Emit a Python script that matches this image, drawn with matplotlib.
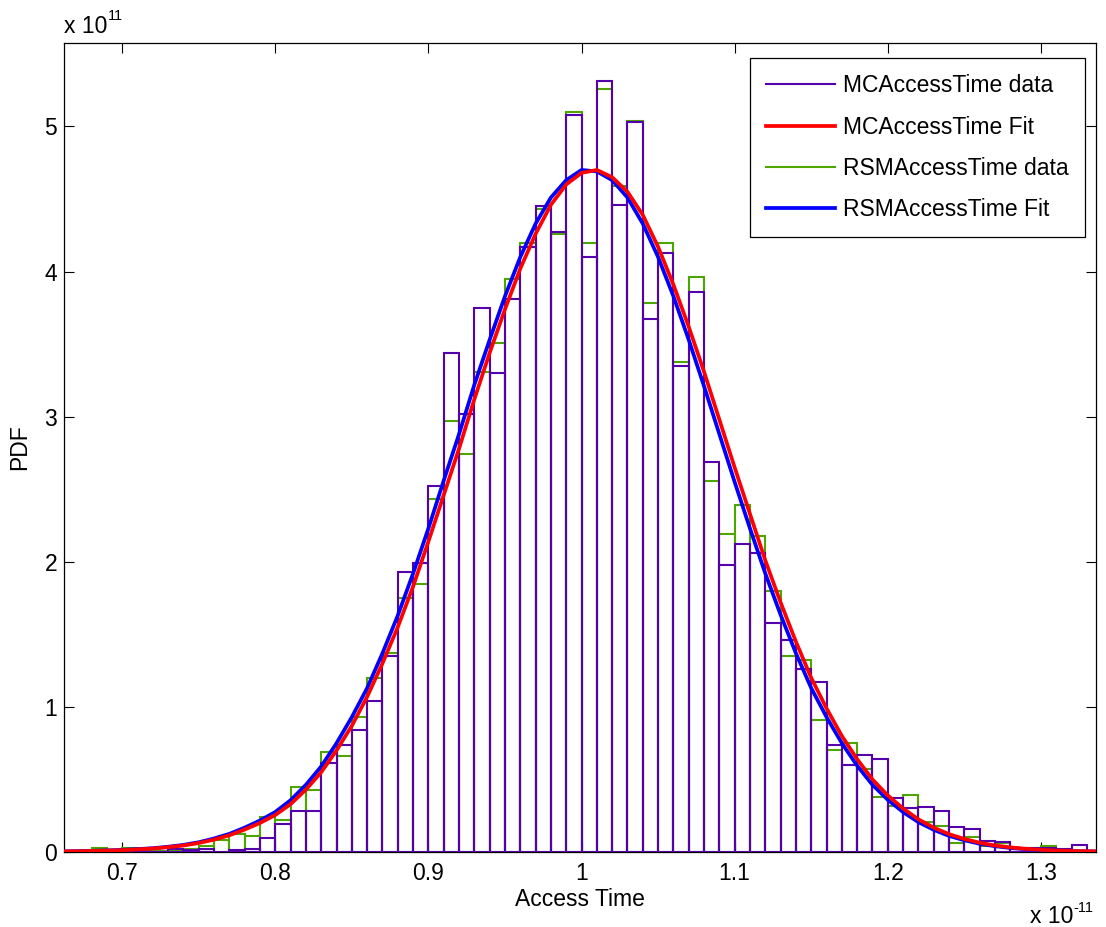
import matplotlib
matplotlib.use('Agg')
import matplotlib.pyplot as plt
from matplotlib.lines import Line2D
import numpy as np

plt.rcParams['font.family'] = ['Liberation Sans', 'DejaVu Sans']

# ---------------- data (x in units of 1e-11 s, pdf in units of 1e11) ----------------
bin_width = 0.01
bin_left = np.round(np.arange(0.66, 1.335, bin_width), 2)

mc_data = [0.0, 0.0, 0.0, 0.0, 0.0, 0.0, 0.0,
           0.023, 0.011, 0.023, 0.003, 0.016, 0.023, 0.096,
           0.193, 0.28, 0.28, 0.61, 0.74, 0.84, 1.04, 1.35,
           1.93, 1.99, 2.52, 3.44, 3.02, 3.75, 3.30, 3.81,
           4.17, 4.45, 4.27, 5.08, 4.10, 5.31, 4.46, 5.03,
           3.67, 4.13, 3.35, 3.86, 2.69, 1.98, 2.12, 2.06,
           1.58, 1.46, 1.26, 1.17, 0.74, 0.60, 0.67, 0.64,
           0.37, 0.30, 0.31, 0.28, 0.17, 0.16, 0.075, 0.07,
           0.03, 0.03, 0.03, 0.02, 0.045, 0.0]

rsm_data = [0.0, 0.0, 0.025, 0.0, 0.025, 0.01, 0.01,
            0.01, 0.02, 0.044, 0.085, 0.124, 0.108, 0.241,
            0.223, 0.45, 0.425, 0.69, 0.66, 0.93, 1.20, 1.37,
            1.75, 1.85, 2.43, 2.97, 2.74, 3.31, 3.51, 3.95,
            4.20, 4.43, 4.26, 5.10, 4.20, 5.26, 4.59, 5.04,
            3.78, 4.20, 3.38, 3.96, 2.56, 2.19, 2.39, 2.18,
            1.80, 1.35, 1.32, 0.91, 0.70, 0.75, 0.57, 0.38,
            0.32, 0.39, 0.21, 0.18, 0.06, 0.10, 0.04, 0.06,
            0.02, 0.03, 0.04, 0.015, 0.01, 0.0]

fit_x = [0.662, 0.67, 0.68, 0.69, 0.70, 0.71, 0.72, 0.73, 0.74, 0.75,
         0.76, 0.77, 0.78, 0.79, 0.80, 0.81, 0.82, 0.83, 0.84, 0.85,
         0.86, 0.87, 0.88, 0.89, 0.90, 0.91, 0.92, 0.93, 0.94, 0.95,
         0.96, 0.97, 0.98, 0.99, 1.00, 1.01, 1.02, 1.03, 1.04, 1.05,
         1.06, 1.07, 1.08, 1.09, 1.10, 1.11, 1.12, 1.13, 1.14, 1.15,
         1.16, 1.17, 1.18, 1.19, 1.20, 1.21, 1.22, 1.23, 1.24, 1.25,
         1.26, 1.27, 1.28, 1.29, 1.30, 1.31, 1.32, 1.33, 1.336]

mc_fit = [0.004, 0.005, 0.007, 0.010, 0.013, 0.018, 0.024, 0.033, 0.045, 0.062,
          0.085, 0.115, 0.155, 0.200, 0.255, 0.33, 0.43, 0.55, 0.70, 0.87,
          1.07, 1.30, 1.55, 1.83, 2.14, 2.46, 2.78, 3.12, 3.44, 3.74,
          4.02, 4.26, 4.46, 4.60, 4.68, 4.70, 4.65, 4.55, 4.39, 4.17,
          3.91, 3.62, 3.31, 2.98, 2.65, 2.33, 2.01, 1.72, 1.45, 1.20,
          0.99, 0.80, 0.64, 0.50, 0.39, 0.30, 0.225, 0.168, 0.123, 0.090,
          0.064, 0.045, 0.032, 0.022, 0.015, 0.010, 0.007, 0.005, 0.004]

rsm_fit = [0.004, 0.0055, 0.0078, 0.011, 0.0145, 0.020, 0.026, 0.036, 0.049, 0.067,
           0.093, 0.125, 0.168, 0.217, 0.276, 0.357, 0.463, 0.59, 0.75, 0.93,
           1.13, 1.37, 1.63, 1.92, 2.23, 2.56, 2.88, 3.22, 3.53, 3.83,
           4.10, 4.33, 4.51, 4.63, 4.70, 4.69, 4.63, 4.51, 4.33, 4.10,
           3.83, 3.53, 3.21, 2.88, 2.55, 2.23, 1.92, 1.635, 1.37, 1.13,
           0.93, 0.75, 0.595, 0.463, 0.36, 0.275, 0.206, 0.153, 0.111, 0.081,
           0.057, 0.040, 0.028, 0.0195, 0.013, 0.009, 0.006, 0.0045, 0.0035]

labels = ['MCAccessTime data', 'MCAccessTime Fit',
          'RSMAccessTime data', 'RSMAccessTime Fit']
x_ticks = [0.7, 0.8, 0.9, 1.0, 1.1, 1.2, 1.3]
x_tick_labels = ['0.7', '0.8', '0.9', '1', '1.1', '1.2', '1.3']
y_ticks = [0, 1, 2, 3, 4, 5]
y_tick_labels = ['0', '1', '2', '3', '4', '5']

# ---------------- styling ----------------
purple = '#5500aa'
green = '#4da600'
fs = 16.5
sup_fs = 10.5

W, H = 1106, 927
fig = plt.figure(figsize=(W / 100, H / 100), dpi=100)
ax = fig.add_axes([64 / W, 1 - 852 / H, (1096 - 64) / W, (852 - 43) / H])

ax.bar(bin_left, rsm_data, width=bin_width, align='edge', fill=False,
       edgecolor=green, linewidth=1.5, zorder=2)
ax.bar(bin_left, mc_data, width=bin_width, align='edge', fill=False,
       edgecolor=purple, linewidth=1.5, zorder=3)
ax.plot(fit_x, rsm_fit, color='#0000ff', linewidth=2.7, zorder=4,
        solid_joinstyle='round', solid_capstyle='round')
ax.plot(fit_x, mc_fit, color='#ff0000', linewidth=2.7, zorder=5,
        solid_joinstyle='round', solid_capstyle='round')

ax.set_xlim(0.662, 1.336)
ax.set_ylim(0, 5.575)
ax.set_xticks(x_ticks)
ax.set_xticklabels(x_tick_labels)
ax.set_yticks(y_ticks)
ax.set_yticklabels(y_tick_labels)
ax.tick_params(direction='in', length=7, width=0.8, top=True, right=True,
               labelsize=fs, colors='black')
ax.tick_params(axis='x', pad=7)
ax.tick_params(axis='y', pad=5)
for s in ax.spines.values():
    s.set_linewidth(0.9)

fig.text(580 / W, 1 - 906 / H, 'Access Time', ha='center', va='baseline', fontsize=fs)
fig.text(20 / W, 1 - 447 / H, 'PDF', ha='center', va='center', rotation=90, fontsize=fs)

# exponent labels (MATLAB style)
fig.text(64 / W, 1 - 33 / H, 'x 10', ha='left', va='baseline', fontsize=fs)
fig.text(108 / W, 1 - 20 / H, '11', ha='left', va='baseline', fontsize=sup_fs)
fig.text(1030 / W, 1 - 923 / H, 'x 10', ha='left', va='baseline', fontsize=fs)
fig.text(1073 / W, 1 - 912 / H, '-11', ha='left', va='baseline', fontsize=sup_fs)

handles = [Line2D([], [], color=purple, lw=1.5),
           Line2D([], [], color='#ff0000', lw=2.7),
           Line2D([], [], color=green, lw=1.5),
           Line2D([], [], color='#0000ff', lw=2.7)]
leg = ax.legend(handles, labels, loc='upper right',
                bbox_to_anchor=(1085 / W, 1 - 58 / H), bbox_transform=fig.transFigure,
                borderaxespad=0, fancybox=False, edgecolor='black', framealpha=1,
                fontsize=fs, handlelength=3.0, handletextpad=0.35,
                labelspacing=0.79, borderpad=0.72)
leg.get_frame().set_linewidth(0.9)

fig.savefig('out.png', dpi=100)
